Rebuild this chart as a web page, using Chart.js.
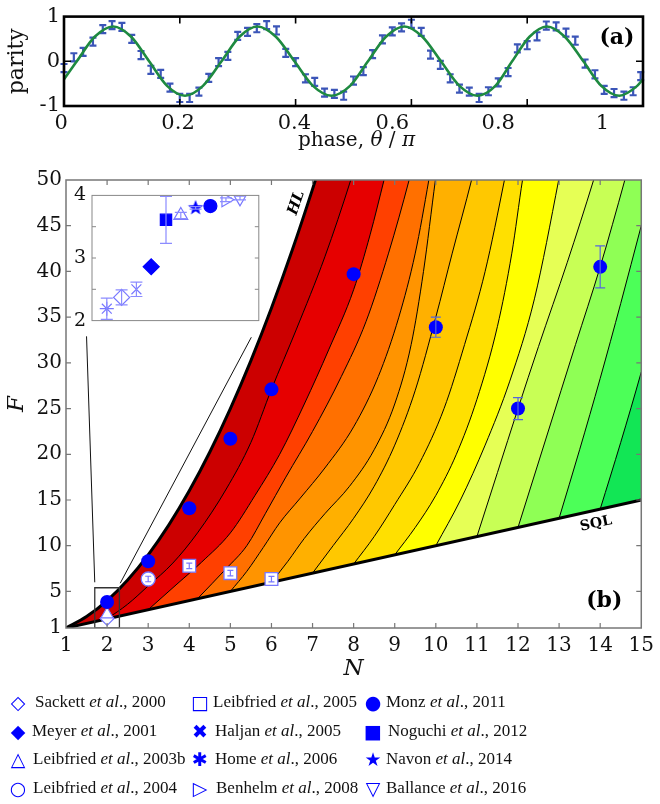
<!DOCTYPE html>
<html>
<head>
<meta charset="utf-8">
<script src="https://cdn.jsdelivr.net/npm/chart.js@4.4.1/dist/chart.umd.min.js"></script>
<style>
  body { margin: 0; background: #fff; }
  #page { position: relative; width: 660px; height: 804px; overflow: hidden; font-family: "Liberation Serif", serif; color: #111; }
  canvas { position: absolute; }
  #ca { left: 0; top: 0; }
  #cb { left: 0; top: 160px; }
  #ci { left: 68px; top: 178px; }
  #xta { position: absolute; left: 298px; top: 127px; font-family: "DejaVu Serif", serif; font-size: 20px; white-space: nowrap; }
  .col { position: absolute; top: 688px; font-size: 17px; }
  .row { position: relative; height: 28.7px; line-height: 28.7px; white-space: nowrap; }
  .mk { position: absolute; top: 0; width: 24px; text-align: center; color: #00f; font-family: "DejaVu Sans", sans-serif; font-size: 19px; }
  .tx { position: absolute; top: 0; }
</style>
</head>
<body>
<div id="page">
  <canvas id="ca" width="660" height="150"></canvas>
  <div id="xta">phase, <i>θ</i> / <i>π</i></div>
  <canvas id="cb" width="660" height="530"></canvas>
  <canvas id="ci" width="200" height="160"></canvas>

  <div class="col" style="left:0">
    <div class="row"><span class="mk" style="left:6px">◇</span><span class="tx" style="left:35px">Sackett <i>et al</i>., 2000</span></div>
    <div class="row"><span class="mk" style="left:6px">◆</span><span class="tx" style="left:32px">Meyer <i>et al</i>., 2001</span></div>
    <div class="row"><span class="mk" style="left:6px">△</span><span class="tx" style="left:33px">Leibfried <i>et al</i>., 2003b</span></div>
    <div class="row"><span class="mk" style="left:6px">○</span><span class="tx" style="left:33px">Leibfried <i>et al</i>., 2004</span></div>
  </div>
  <div class="col" style="left:0">
    <div class="row"><span class="mk" style="left:188px">□</span><span class="tx" style="left:213px">Leibfried <i>et al</i>., 2005</span></div>
    <div class="row"><span class="mk" style="left:188px">✖</span><span class="tx" style="left:215px">Haljan <i>et al</i>., 2005</span></div>
    <div class="row"><span class="mk" style="left:188px">✱</span><span class="tx" style="left:215px">Home <i>et al</i>., 2006</span></div>
    <div class="row"><span class="mk" style="left:188px">▷</span><span class="tx" style="left:216px">Benhelm <i>et al</i>., 2008</span></div>
  </div>
  <div class="col" style="left:0">
    <div class="row"><span class="mk" style="left:361px">●</span><span class="tx" style="left:386px">Monz <i>et al</i>., 2011</span></div>
    <div class="row"><span class="mk" style="left:361px">■</span><span class="tx" style="left:388px">Noguchi <i>et al</i>., 2012</span></div>
    <div class="row"><span class="mk" style="left:361px">★</span><span class="tx" style="left:386px">Navon <i>et al</i>., 2014</span></div>
    <div class="row"><span class="mk" style="left:361px">▽</span><span class="tx" style="left:386px">Ballance <i>et al</i>., 2016</span></div>
  </div>
</div>

<script>
// ---------- panel (a): parity oscillation ----------
const phase = [0, 0.017, 0.033, 0.05, 0.067, 0.083, 0.1, 0.117, 0.133, 0.15,
  0.167, 0.183, 0.2, 0.217, 0.233, 0.25, 0.267, 0.283, 0.3, 0.317,
  0.333, 0.35, 0.367, 0.383, 0.4, 0.417, 0.433, 0.45, 0.467, 0.483,
  0.5, 0.517, 0.533, 0.55, 0.567, 0.583, 0.6, 0.617, 0.633, 0.65,
  0.667, 0.683, 0.7, 0.717, 0.733, 0.75, 0.767, 0.783, 0.8, 0.817,
  0.833, 0.85, 0.867, 0.883, 0.9, 0.917, 0.933, 0.95, 0.967, 0.983, 0.996];
const parity = [-0.15, 0.09, 0.21, 0.44, 0.72, 0.81, 0.77, 0.50, 0.14, -0.19,
  -0.28, -0.59, -0.82, -0.82, -0.68, -0.37, -0.02, 0.12, 0.57, 0.66,
  0.74, 0.81, 0.69, 0.19, -0.02, -0.38, -0.46, -0.70, -0.73, -0.77,
  -0.43, -0.22, 0.16, 0.49, 0.67, 0.76, 0.84, 0.66, 0.15, -0.08,
  -0.38, -0.61, -0.68, -0.82, -0.67, -0.47, -0.24, 0.29, 0.36, 0.56,
  0.80, 0.78, 0.64, 0.46, -0.05, -0.29, -0.64, -0.71, -0.77, -0.67, -0.33];
const parityErr = 0.09;
const fitPhase = [0, 0.022, 0.053, 0.085, 0.116, 0.147, 0.178, 0.209, 0.240, 0.272,
  0.303, 0.334, 0.366, 0.398, 0.430, 0.462, 0.494, 0.525, 0.556, 0.588,
  0.619, 0.651, 0.683, 0.714, 0.745, 0.774, 0.804, 0.834, 0.865, 0.897,
  0.928, 0.959, 0.990, 1.0];
const fitParity = [-0.40, 0, 0.55, 0.78, 0.55, 0, -0.55, -0.77, -0.55, 0,
  0.55, 0.78, 0.55, 0, -0.55, -0.77, -0.55, 0, 0.55, 0.78,
  0.55, 0, -0.55, -0.77, -0.55, 0, 0.55, 0.78, 0.55, 0,
  -0.55, -0.77, -0.55, -0.40];
const phaseLabels = ['0', '0.2', '0.4', '0.6', '0.8', '1'];
const phaseLabelAt = [-0.005, 0.197, 0.398, 0.567, 0.750, 0.930];

// ---------- panel (b): F versus N ----------
const hlCurve = [[1, 1], [1.5, 2.25], [2, 4], [2.5, 6.25], [3, 9], [3.5, 12.25], [4, 16],
  [4.5, 20.25], [5, 25], [5.5, 30.25], [6, 36], [6.5, 42.25], [7, 49], [7.07, 50]];
const sqlLine = [[1, 1], [15, 15]];
// contour lines, from the HL side towards the SQL side (last point lies above the frame)
const contours = [
  [[2, 2], [2.5, 3.6], [3, 5.6], [3.6, 8.1], [4.2, 11.4], [4.9, 16.2], [5.5, 21.3], [6, 27.1], [6.6, 33.6], [7.3, 41.6], [7.93, 50], [8.6, 60]],
  [[3, 3], [3.7, 5.8], [4.3, 8.2], [5, 11.4], [5.6, 15.5], [6.2, 20], [6.8, 25.5], [7.4, 31.5], [8, 38], [8.4, 44], [8.74, 50], [9.3, 60]],
  [[4.2, 4.2], [4.9, 7.5], [5.4, 10], [5.85, 13.5], [6.35, 17.5], [7, 22.5], [7.7, 28.5], [8.3, 34.5], [8.85, 42], [9.35, 50], [9.9, 60]],
  [[5, 5], [5.4, 7.2], [5.8, 9.8], [6.2, 12.5], [6.7, 15.2], [7.3, 18.5], [8, 23], [8.6, 28.5], [9.1, 35], [9.5, 42], [9.83, 50], [10.2, 60]],
  [[6, 6], [6.4, 8.3], [6.8, 10.8], [7.3, 13.5], [7.9, 16.5], [8.5, 20.5], [9, 25.5], [9.4, 32], [9.7, 40], [9.99, 50], [10.3, 60]],
  [[7, 7], [7.5, 10], [8, 13], [8.5, 16.5], [9, 21], [9.5, 27], [10, 35], [10.4, 42], [10.87, 50], [11.4, 60]],
  [[8, 8], [8.5, 11], [9, 14.5], [9.6, 19], [10.2, 25], [10.7, 32], [11.2, 40], [11.67, 50], [12.1, 60]],
  [[9, 9], [9.5, 12], [10, 15.5], [10.5, 20], [11, 26], [11.5, 34], [11.85, 42], [12.11, 50], [12.5, 60]],
  [[10, 10], [10.6, 15], [11.2, 21], [11.8, 28], [12.4, 37], [12.99, 50], [13.4, 60]],
  [[11, 11], [11.5, 18], [12, 25], [12.5, 31.8], [13.2, 41], [13.84, 50], [14.5, 60]],
  [[12, 12], [12.7, 22], [13.4, 32], [14, 40.5], [14.6, 50], [15.2, 60]],
  [[13, 13], [13.5, 20.5], [14, 28.3], [14.5, 36.5], [15, 45], [15.3, 50]],
  [[14, 14], [14.5, 21.3], [15, 29], [15.3, 34]]
];
const bandColors = ['#cc0000', '#e60000', '#ff4000', '#ff7000', '#ff9400', '#ffb000', '#ffc800',
  '#ffe000', '#ffff00', '#e6ff55', '#c8ff55', '#8fff55', '#4cff58', '#12e655'];
const nTicks = [1, 2, 3, 4, 5, 6, 7, 8, 9, 10, 11, 12, 13, 14, 15];
const fTicks = [1, 5, 10, 15, 20, 25, 30, 35, 40, 45, 50];

// experiments shown in the main panel
const monzN = [2, 3, 4, 5, 6, 8, 10, 12, 14];
const monzF = [3.84, 8.3, 14.1, 21.7, 27.1, 39.7, 33.9, 25.0, 40.5];
const monzErr = [0, 0, 0, 0, 0, 0, 1.1, 1.2, 2.3];
const leib05N = [4, 5, 6];
const leib05F = [7.8, 7.0, 6.35];
const leib05Err = [0.3, 0.3, 0.3];
const leib04N = [3];
const leib04F = [6.36];
const leib04Err = [0.3];
const pairN = [2];
const leib03F = [2.5];
const sackettF = [2.05];

// zoom-in of the N = 2 experiments (inset)
const insX = [1, 2, 3, 4, 5, 6, 7, 8, 9.05, 10];
const insF = [2.19, 2.37, 2.5, 2.86, 3.61, 3.68, 3.8, 3.83, 3.93, 3.96];
const insErr = [0.17, 0.12, 0.115, 0, 0.375, 0.05, 0.02, 0, 0.03, 0.03];
const insTicks = [2, 3, 4];
const insMinor = [2.5, 3, 3.5];
const zoomBox = [[1.7, 1], [1.7, 5.4], [2.3, 5.4], [2.3, 1], [1.7, 1]];
const zoomLeft = [[1.70, 6.0], [1.50, 32.9]];
const zoomRight = [[2.32, 5.9], [5.51, 32.8]];

Chart.defaults.font.family = '"DejaVu Serif", serif';
Chart.defaults.color = '#111';

const pts = arr => arr.map(p => ({x: p[0], y: p[1]}));
const zip = (xs, ys) => xs.map((x, i) => ({x, y: ys[i]}));

const BLUE = '#0000ff';
const PALE = '#7878ff';

// filled five-point star for Navon et al.
function starImage(r) {
  const c = document.createElement('canvas');
  c.width = c.height = 2 * r + 2;
  const g = c.getContext('2d');
  g.fillStyle = BLUE;
  g.beginPath();
  for (let i = 0; i < 10; i++) {
    const a = -Math.PI / 2 + i * Math.PI / 5;
    const rr = i % 2 ? r * 0.42 : r;
    g.lineTo(r + 1 + rr * Math.cos(a), r + 1 + rr * Math.sin(a));
  }
  g.closePath();
  g.fill();
  return c;
}

const errBars = {
  id: 'errBars',
  afterDatasetDraw(chart, args) {
    const ds = chart.data.datasets[args.index];
    if (!ds.errors) return;
    const ys = chart.scales.y, ctx = chart.ctx;
    ctx.save();
    ctx.strokeStyle = ds.errColor;
    ctx.lineWidth = ds.errWidth || 1;
    args.meta.data.forEach((pt, i) => {
      const e = ds.errors[i];
      if (!e) return;
      const v = ds.data[i].y;
      const y0 = ys.getPixelForValue(v - e), y1 = ys.getPixelForValue(v + e);
      const c = ds.capHalf || 5;
      ctx.beginPath();
      ctx.moveTo(pt.x, y0); ctx.lineTo(pt.x, y1);
      ctx.moveTo(pt.x - c, y0); ctx.lineTo(pt.x + c, y0);
      ctx.moveTo(pt.x - c, y1); ctx.lineTo(pt.x + c, y1);
      ctx.stroke();
    });
    ctx.restore();
  }
};

// box around the plot with inward ticks
const frame = {
  id: 'frame',
  afterDatasetsDraw(chart, args, o) {
    const {ctx, chartArea: a, scales: {x, y}} = chart;
    ctx.save();
    ctx.strokeStyle = o.color;
    ctx.lineWidth = o.tickWidth;
    ctx.beginPath();
    (o.xTicks || []).forEach(v => {
      const px = x.getPixelForValue(v);
      ctx.moveTo(px, a.bottom); ctx.lineTo(px, a.bottom - o.len);
      ctx.moveTo(px, a.top); ctx.lineTo(px, a.top + o.len);
    });
    (o.yTicks || []).forEach(v => {
      const py = y.getPixelForValue(v);
      ctx.moveTo(a.left, py); ctx.lineTo(a.left + o.len, py);
      ctx.moveTo(a.right, py); ctx.lineTo(a.right - o.len, py);
    });
    ctx.stroke();
    ctx.lineWidth = o.width;
    ctx.strokeRect(a.left, a.top, a.width, a.height);
    ctx.restore();
  }
};

const notes = {
  id: 'notes',
  afterDraw(chart, args, o) {
    const {ctx, scales: {x, y}} = chart;
    (o.items || []).forEach(t => {
      ctx.save();
      ctx.translate(x.getPixelForValue(t.x), y.getPixelForValue(t.y));
      ctx.rotate((t.rot || 0) * Math.PI / 180);
      ctx.font = t.font;
      ctx.fillStyle = '#000';
      ctx.textAlign = 'center';
      ctx.textBaseline = 'middle';
      ctx.fillText(t.text, 0, 0);
      ctx.restore();
    });
  }
};

const phaseTickLabels = {
  id: 'phaseTickLabels',
  afterDraw(chart) {
    const {ctx, chartArea: a, scales: {x}} = chart;
    ctx.save();
    ctx.font = '21px "DejaVu Serif"';
    ctx.fillStyle = '#111';
    ctx.textAlign = 'center';
    ctx.textBaseline = 'middle';
    phaseLabels.forEach((t, i) => ctx.fillText(t, x.getPixelForValue(phaseLabelAt[i]), a.bottom + 18));
    ctx.restore();
  }
};

// ---------- chart (a) ----------
new Chart(document.getElementById('ca'), {
  type: 'line',
  data: {
    datasets: [
      {data: zip(fitPhase, fitParity), borderColor: '#1e8a40', borderWidth: 2.6,
        pointRadius: 0, cubicInterpolationMode: 'monotone'},
      {data: zip(phase, parity), showLine: false, pointRadius: 0,
        errors: phase.map(() => parityErr), errColor: '#3b55b8', errWidth: 2.2, capHalf: 3.5}
    ]
  },
  options: {
    responsive: false, animation: false,
    layout: {padding: {top: 9, right: 17, left: 0, bottom: 0}},
    plugins: {
      legend: {display: false}, tooltip: {enabled: false},
      frame: {color: '#000', width: 2.6, tickWidth: 1.6, len: 7, xTicks: [0.2, 0.4, 0.6, 0.8], yTicks: [0]},
      notes: {items: [{x: 0.955, y: 0.52, text: '(a)', font: 'bold 22px "DejaVu Serif"'}]}
    },
    scales: {
      x: {type: 'linear', min: 0, max: 1, grid: {display: false, drawTicks: false}, border: {display: false},
        ticks: {display: false, stepSize: 0.2}, afterFit: s => { s.height = 44; }},
      y: {min: -1, max: 1, grid: {display: false, drawTicks: false}, border: {display: false},
        ticks: {stepSize: 1, padding: 4, font: {size: 21}},
        title: {display: true, text: 'parity', font: {size: 22}, padding: {top: 4}},
        afterFit: s => { s.width = 64; }}
    }
  },
  plugins: [errBars, frame, notes, phaseTickLabels]
});

// ---------- chart (b) ----------
const dsB = [];
const hlExt = hlCurve.concat([[7.4, 60], [15, 60]]);
dsB.push({data: pts(hlExt), borderWidth: 0, pointRadius: 0, cubicInterpolationMode: 'monotone',
  fill: 'start', backgroundColor: bandColors[0]});
contours.forEach((c, i) => {
  dsB.push({data: pts(c.concat(c[c.length - 1][1] >= 60 ? [[15.6, 60]] : [])), borderColor: '#000', borderWidth: 1,
    pointRadius: 0, cubicInterpolationMode: 'monotone', fill: 'start', backgroundColor: bandColors[i + 1]});
});
dsB.push({data: pts(sqlLine), borderColor: '#000', borderWidth: 3, pointRadius: 0,
  fill: 'start', backgroundColor: '#fff'});
dsB.push({data: pts(hlCurve), borderColor: '#000', borderWidth: 3, pointRadius: 0,
  cubicInterpolationMode: 'monotone', fill: 'end', backgroundColor: '#fff'});
dsB.push({data: pts(zoomLeft), borderColor: '#111', borderWidth: 1, pointRadius: 0});
dsB.push({data: pts(zoomRight), borderColor: '#111', borderWidth: 1, pointRadius: 0});
dsB.push({data: pts(zoomBox), borderColor: '#333', borderWidth: 1.3, pointRadius: 0});
dsB.push({data: zip(pairN, sackettF), showLine: false, pointStyle: 'rectRot', pointRadius: 7,
  pointBackgroundColor: '#fff', pointBorderColor: PALE, pointBorderWidth: 1.2});
dsB.push({data: zip(pairN, leib03F), showLine: false, pointStyle: 'triangle', pointRadius: 7,
  pointBackgroundColor: '#fff', pointBorderColor: PALE, pointBorderWidth: 1.2});
dsB.push({data: zip(leib04N, leib04F), showLine: false, pointStyle: 'circle', pointRadius: 7,
  pointBackgroundColor: '#fff', pointBorderColor: PALE, pointBorderWidth: 1.3,
  errors: leib04Err, errColor: PALE, errWidth: 1.2, capHalf: 3});
dsB.push({data: zip(leib05N, leib05F), showLine: false, pointStyle: 'rect', pointRadius: 9,
  pointBackgroundColor: '#fff', pointBorderColor: PALE, pointBorderWidth: 1.3,
  errors: leib05Err, errColor: PALE, errWidth: 1.2, capHalf: 3});
dsB.push({data: zip(monzN, monzF), showLine: false, pointStyle: 'circle', pointRadius: 7,
  pointBackgroundColor: BLUE, pointBorderColor: BLUE, pointBorderWidth: 0,
  errors: monzErr, errColor: '#5566dd', errWidth: 1.2, capHalf: 5});
dsB.forEach((d, i) => { d.order = -i; });

new Chart(document.getElementById('cb'), {
  type: 'line',
  data: {datasets: dsB},
  options: {
    responsive: false, animation: false,
    layout: {padding: {top: 20, right: 12, left: 0, bottom: 0}},
    plugins: {
      legend: {display: false}, tooltip: {enabled: false},
      filler: {propagate: false},
      frame: {color: '#777', width: 1.5, tickWidth: 1.2, len: 5,
        xTicks: nTicks.slice(1, -1), yTicks: fTicks.slice(1, -1)},
      notes: {items: [
        {x: 6.61, y: 47.5, rot: -71, text: 'HL', font: 'bold italic 15px "DejaVu Serif"'},
        {x: 13.9, y: 12.4, rot: -12, text: 'SQL', font: 'bold 14px "DejaVu Serif"'},
        {x: 14.1, y: 3.95, text: '(b)', font: 'bold 22px "DejaVu Serif"'}
      ]}
    },
    scales: {
      x: {type: 'linear', min: 1, max: 15, grid: {display: false, drawTicks: false}, border: {display: false},
        ticks: {stepSize: 1, padding: 6, font: {size: 20}},
        title: {display: true, text: 'N', font: {size: 23, style: 'italic'}, padding: {top: 0, bottom: 7}},
        afterFit: s => { s.height = 62; }},
      y: {min: 1, max: 50, grid: {display: false, drawTicks: false}, border: {display: false},
        afterBuildTicks: s => { s.ticks = fTicks.map(v => ({value: v})); },
        ticks: {padding: 4, font: {size: 20}},
        title: {display: true, text: 'F', font: {size: 23, style: 'italic'}, padding: {top: 3}},
        afterFit: s => { s.width = 66; }}
    }
  },
  plugins: [errBars, frame, notes]
});

// ---------- inset ----------
const insStyle = [
  {pointStyle: 'star', bg: 'rgba(0,0,0,0)', bc: PALE, r: 7},
  {pointStyle: 'rectRot', bg: 'rgba(0,0,0,0)', bc: PALE, r: 8},
  {pointStyle: 'crossRot', bg: 'rgba(0,0,0,0)', bc: PALE, r: 7},
  {pointStyle: 'rectRot', bg: BLUE, bc: BLUE, r: 8},
  {pointStyle: 'rect', bg: BLUE, bc: BLUE, r: 8},
  {pointStyle: 'triangle', bg: 'rgba(0,0,0,0)', bc: PALE, r: 8},
  {pointStyle: starImage(8), bg: BLUE, bc: BLUE, r: 8},
  {pointStyle: 'circle', bg: BLUE, bc: BLUE, r: 6.5},
  {pointStyle: 'triangle', bg: 'rgba(0,0,0,0)', bc: PALE, r: 8, rot: 90},
  {pointStyle: 'triangle', bg: 'rgba(0,0,0,0)', bc: PALE, r: 8, rot: 180}
];
new Chart(document.getElementById('ci'), {
  type: 'line',
  data: {
    datasets: insX.map((x, i) => ({
      data: [{x, y: insF[i]}], showLine: false,
      pointStyle: insStyle[i].pointStyle, pointRadius: insStyle[i].r, pointRotation: insStyle[i].rot || 0,
      pointBackgroundColor: insStyle[i].bg, pointBorderColor: insStyle[i].bc, pointBorderWidth: 1.2,
      errors: [insErr[i]], errColor: '#8c8cff', errWidth: 1.2, capHalf: 6
    }))
  },
  options: {
    responsive: false, animation: false,
    layout: {padding: {top: 13.7, right: 7, left: 0, bottom: 13}},
    plugins: {
      legend: {display: false}, tooltip: {enabled: false},
      frame: {color: '#888', width: 1, tickWidth: 1, len: 4, yTicks: insMinor}
    },
    scales: {
      x: {type: 'linear', min: 0, max: 11.27, display: false},
      y: {min: 2, max: 4, grid: {display: false, drawTicks: false}, border: {display: false},
        afterBuildTicks: s => { s.ticks = insTicks.map(v => ({value: v})); },
        ticks: {padding: 6, font: {size: 19}},
        afterFit: s => { s.width = 24; }}
    }
  },
  plugins: [errBars, frame]
});
</script>
</body>
</html>
